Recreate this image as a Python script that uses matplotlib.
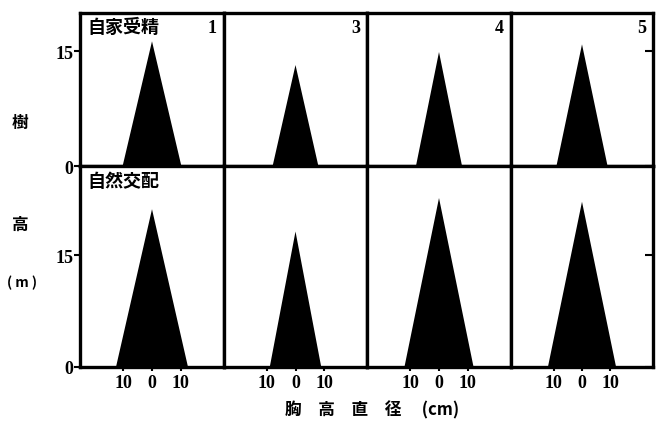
import matplotlib.pyplot as plt

plt.rcParams['font.family'] = ['Noto Sans CJK JP', 'DejaVu Sans']

# tree shape per progeny line: height (m) and diameter at breast height (cm)
lines = ['1', '3', '4', '5']
height_self = [16.3, 13.2, 14.9, 15.9]
dbh_self = [20.4, 16.0, 16.0, 18.0]
height_open = [21.2, 18.2, 22.7, 22.2]
dbh_open = [25.0, 18.0, 24.0, 24.0]
row_names = ['自家受精', '自然交配']
xticks = [-10, 0, 10]
xtick_labels = ['10', '0', '10']

W, H = 657, 427
col_edges = [80, 224, 367, 511, 653]
row_edges = [14, 167, 368]
ylims = [20.0, 27.0]
num_font = dict(family='Liberation Serif', fontweight='bold', fontsize=13)

fig = plt.figure(figsize=(W / 100, H / 100), dpi=100)

rows = [(height_self, dbh_self), (height_open, dbh_open)]
for r, (heights, dbhs) in enumerate(rows):
    top, bottom = row_edges[r], row_edges[r + 1]
    for c in range(4):
        left, right = col_edges[c], col_edges[c + 1]
        ax = fig.add_axes([left / W, 1 - bottom / H, (right - left) / W, (bottom - top) / H])
        h, d = heights[c], dbhs[c]
        ax.fill([-d / 2, 0, d / 2], [0, h, 0], color='black', lw=0)
        ax.set_xlim(-25, 25)
        ax.set_ylim(0, ylims[r])
        for s in ax.spines.values():
            s.set_linewidth(2.4)
        ax.set_xticks(xticks)
        ax.tick_params(axis='x', direction='out', length=3, width=1.5)
        if r == 1:
            ax.set_xticklabels(xtick_labels, **num_font)
            ax.tick_params(axis='x', pad=2)
        else:
            ax.set_xticklabels([])
        ax.set_yticks([0, 15])
        if c == 0:
            ax.set_yticklabels(['0', '15'], **num_font)
            ax.tick_params(axis='y', direction='out', length=4, width=1.5, pad=1)
        elif c == 3:
            ax.yaxis.tick_right()
            ax.set_yticklabels([])
            ax.tick_params(axis='y', direction='in', length=6, width=1.5)
        else:
            ax.tick_params(axis='y', length=0, labelleft=False)
        if c == 0:
            ax.text(0.05, 0.975, row_names[r], transform=ax.transAxes, ha='left', va='top',
                    fontsize=13, fontweight='bold')
        if r == 0:
            ax.text(0.95, 0.96, lines[c], transform=ax.transAxes, ha='right', va='top', **num_font)

fig.text(20 / W, 1 - 123 / H, '樹', ha='center', va='center', fontsize=12, fontweight='bold')
fig.text(20 / W, 1 - 225 / H, '高', ha='center', va='center', fontsize=12, fontweight='bold')
fig.text(22 / W, 1 - 283 / H, '( m )', ha='center', va='center', fontsize=10, fontweight='bold')
fig.text(372 / W, 1 - 410 / H, '胸　高　直　径　 (cm)', ha='center', va='center',
         fontsize=12, fontweight='bold')

fig.savefig('out.png', dpi=100)
